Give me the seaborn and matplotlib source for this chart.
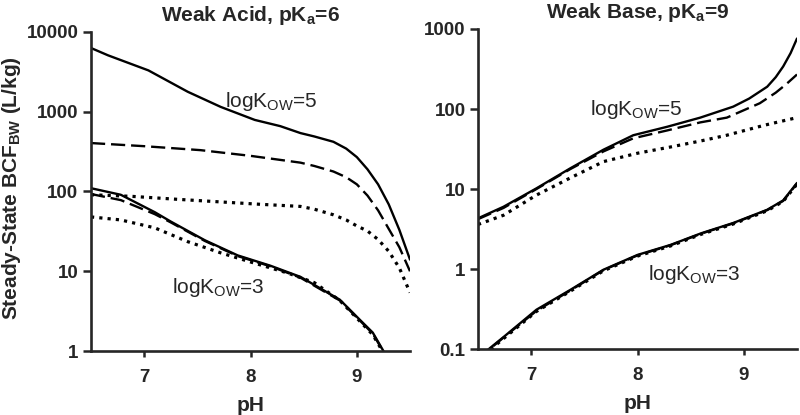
import numpy as np
import pandas as pd
import seaborn as sns
import matplotlib.pyplot as plt
from matplotlib.ticker import NullLocator

# values (pH vs steady-state BCF, L/kg)
# weak acid, pKa = 6
acid_ph_5 = [6.5, 6.66, 7.04, 7.41, 7.72, 8.04, 8.28, 8.47, 8.6, 8.78, 8.9, 9.0, 9.1, 9.2, 9.3, 9.4, 9.5]
acid_solid_5 = [6300, 5100, 3300, 1780, 1150, 790, 660, 540, 490, 420, 345, 270, 190, 123, 69, 33, 14]
acid_ph_5b = [6.5, 7.0, 7.53, 8.0, 8.47, 8.6, 8.78, 8.9, 9.0, 9.1, 9.2, 9.3, 9.4, 9.5]
acid_dash_5 = [405, 370, 330, 280, 230, 209, 178, 151, 123, 89, 58, 34, 20, 10]
acid_ph_5c = [6.5, 6.88, 7.3, 7.72, 8.1, 8.47, 8.6, 8.78, 8.9, 9.0, 9.1, 9.2, 9.3, 9.4, 9.5]
acid_dot_5 = [91, 87, 80, 74, 69, 65, 60, 51, 44, 37, 32, 25, 17.8, 11, 5.4]

acid_ph_3 = [6.5, 6.78, 7.10, 7.25, 7.57, 7.88, 8.19, 8.47, 8.84, 9.03, 9.15, 9.25, 9.35]
acid_solid_3 = [110, 91, 55, 42, 24.5, 15.8, 11.7, 8.5, 4.4, 2.45, 1.7, 1.0, 0.56]
acid_dash_3 = [93, 78, 52, 41, 24, 15.5, 11.5, 8.3, 4.3, 2.4, 1.65, 0.98, 0.55]
acid_ph_3c = [6.5, 6.78, 7.10, 7.41, 7.72, 8.04, 8.35, 8.6, 8.84, 9.03, 9.15, 9.25, 9.35]
acid_dot_3 = [48, 44, 35, 23.5, 17, 12.6, 9.5, 7.2, 4.3, 2.35, 1.6, 0.95, 0.54]

# weak base, pKa = 9
base_ph_5 = [6.5, 6.74, 7.05, 7.37, 7.68, 7.96, 8.28, 8.59, 8.9, 9.05, 9.22, 9.3, 9.37, 9.44, 9.5]
base_solid_5 = [4.3, 6.0, 10.2, 18.2, 31, 47, 60, 78, 107, 135, 190, 250, 340, 500, 760]
base_ph_5b = [6.5, 6.74, 7.05, 7.37, 7.68, 7.96, 8.28, 8.59, 8.84, 9.15, 9.3, 9.4, 9.5]
base_dash_5 = [4.2, 5.8, 10, 17.8, 29.5, 43, 54, 68, 78, 118, 160, 205, 270]
base_ph_5c = [6.5, 6.74, 7.05, 7.37, 7.68, 8.0, 8.31, 8.6, 8.84, 9.2, 9.5]
base_dot_5 = [3.6, 4.7, 8.4, 13.8, 22, 28, 33.5, 40, 47, 63, 78]

base_ph_3 = [6.5, 6.61, 6.74, 7.05, 7.37, 7.68, 8.0, 8.31, 8.6, 8.9, 9.22, 9.37, 9.5]
base_solid_3 = [0.076, 0.102, 0.141, 0.31, 0.55, 0.98, 1.5, 2.0, 2.8, 3.76, 5.5, 7.2, 11.9]
base_dash_3 = [0.075, 0.100, 0.139, 0.30, 0.54, 0.97, 1.48, 1.98, 2.77, 3.72, 5.45, 7.1, 11.7]
base_dot_3 = [0.073, 0.097, 0.135, 0.295, 0.53, 0.95, 1.45, 1.94, 2.72, 3.65, 5.35, 7.0, 11.5]

acid_yticks = [1, 10, 100, 1000, 10000]
base_yticks = [0.1, 1, 10, 100, 1000]
ph_ticks = [7, 8, 9]

sns.set_style('ticks')
plt.rcParams['font.family'] = ['Liberation Sans', 'DejaVu Sans']
plt.rcParams['mathtext.fontset'] = 'custom'
plt.rcParams['mathtext.rm'] = 'Liberation Sans'
plt.rcParams['mathtext.it'] = 'Liberation Sans'
plt.rcParams['mathtext.bf'] = 'Liberation Sans:bold'

SOLID = '-'
DASH = (0, (6, 2.5))
DOT = (0, (1, 1.6))


def draw(ax, x, y, ls):
	lw = 2.3 if ls == DOT else 1.7
	sns.lineplot(x=x, y=y, ax=ax, color='black', lw=lw, linestyle=ls)


def style_axes(ax, yticks, title):
	ax.set_yscale('log')
	ax.set_xlim(6.5, 9.5)
	ax.set_ylim(yticks[0], yticks[-1])
	ax.set_yticks(yticks, labels=[('%g' % t) for t in yticks])
	ax.yaxis.set_minor_locator(NullLocator())
	ax.set_xticks(ph_ticks, labels=[str(t) for t in ph_ticks])
	ax.tick_params(axis='y', length=6, width=1.8, labelsize=13.5, pad=3)
	ax.tick_params(axis='x', length=4, width=1.8, labelsize=13.5, pad=9)
	for lab in ax.get_xticklabels() + ax.get_yticklabels():
		lab.set_fontweight('bold')
	for s in ['top', 'right']:
		ax.spines[s].set_visible(False)
	for s in ['left', 'bottom']:
		ax.spines[s].set_linewidth(1.9)
	ax.set_xlabel('pH', fontsize=15, fontweight='bold', labelpad=7)
	ax.set_ylabel('')
	ax.set_title(title, fontsize=15, fontweight='bold', pad=8)


fig = plt.figure(figsize=(8, 4.15), dpi=100)
ax1 = fig.add_axes([91 / 800, 1 - 351 / 415, 319 / 800, 319 / 415])
ax2 = fig.add_axes([478 / 800, 1 - 349 / 415, 319 / 800, 320 / 415])

# weak acid panel
draw(ax1, acid_ph_5, acid_solid_5, SOLID)
draw(ax1, acid_ph_5b, acid_dash_5, DASH)
draw(ax1, acid_ph_5c, acid_dot_5, DOT)
draw(ax1, acid_ph_3, acid_solid_3, SOLID)
draw(ax1, acid_ph_3, acid_dash_3, DASH)
draw(ax1, acid_ph_3c, acid_dot_3, DOT)
style_axes(ax1, acid_yticks, r'Weak Acid, pK$_{\mathbf{a}}$=6')
ax1.text(7.76, 1150, r'logK$_{\mathrm{OW}}$=5', fontsize=15, ha='left', va='baseline')
ax1.text(7.26, 5.3, r'logK$_{\mathrm{OW}}$=3', fontsize=15, ha='left', va='baseline')

# weak base panel
draw(ax2, base_ph_5, base_solid_5, SOLID)
draw(ax2, base_ph_5b, base_dash_5, DASH)
draw(ax2, base_ph_5c, base_dot_5, DOT)
draw(ax2, base_ph_3, base_solid_3, SOLID)
draw(ax2, base_ph_3, base_dash_3, DASH)
draw(ax2, base_ph_3, base_dot_3, DOT)
style_axes(ax2, base_yticks, r'Weak Base, pK$_{\mathbf{a}}$=9')
ax2.text(7.55, 84, r'logK$_{\mathrm{OW}}$=5', fontsize=15, ha='left', va='baseline')
ax2.text(8.10, 0.725, r'logK$_{\mathrm{OW}}$=3', fontsize=15, ha='left', va='baseline')

fig.text(12 / 800, 1 - 188 / 415, r'Steady-State BCF$_{\mathbf{BW}}$ (L/kg)',
	fontsize=15, fontweight='bold', rotation=90, ha='center', va='center')

fig.savefig('out.png', dpi=100)
